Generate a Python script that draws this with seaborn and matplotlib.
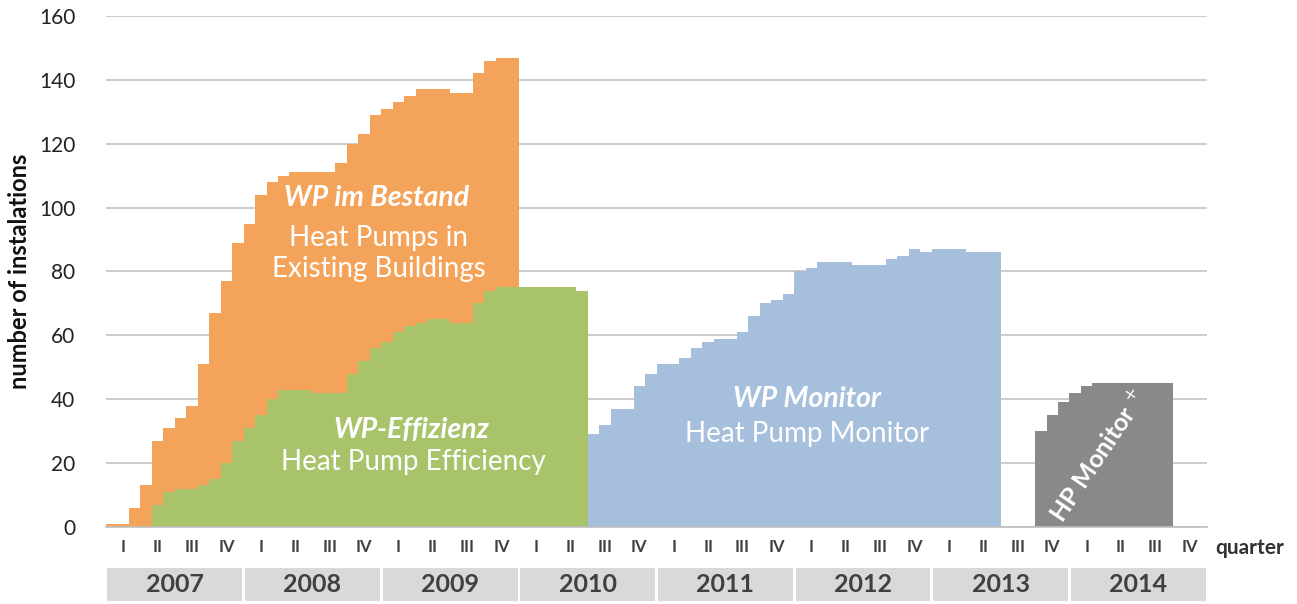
import numpy as np
import pandas as pd
import seaborn as sns
import matplotlib.pyplot as plt
from matplotlib.patches import Rectangle

# --- data: installations per month (cumulative) ---
years = ["2007", "2008", "2009", "2010", "2011", "2012", "2013", "2014"]
quarters = ["I", "II", "III", "IV"]

bestand_start = "2007-01"
bestand = [1, 1, 6, 13, 27, 31, 34, 38, 51, 67, 77, 89,
           95, 104, 108, 110, 111, 111, 111, 111, 114, 120, 123, 129,
           131, 133, 135, 137, 137, 137, 136, 136, 142, 146, 147, 147]

effizienz_start = "2007-05"
effizienz = [7, 11, 12, 12, 13, 15, 20, 27,
             31, 35, 40, 43, 43, 43, 42, 42, 42, 48, 52, 56,
             58, 61, 63, 64, 65, 65, 64, 64, 70, 74, 75, 75,
             75, 75, 75, 75, 75, 74]

monitor_start = "2010-07"
monitor = [29, 32, 37, 37, 44, 48,
           51, 51, 53, 56, 58, 59, 59, 61, 66, 70, 71, 73,
           80, 81, 83, 83, 83, 82, 82, 82, 84, 85, 87, 86,
           87, 87, 87, 86, 86, 86]

monitor_plus_start = "2013-10"
monitor_plus = [30, 35, 39, 42, 44, 45, 45, 45, 45, 45, 45, 45]

colors = {"bestand": "#F4A45A", "effizienz": "#A8C36A",
          "monitor": "#A5BFDD", "monitor_plus": "#898989"}


def to_frame(start, values):
    p0 = pd.Period("2007-01", freq="M")
    first = (pd.Period(start, freq="M") - p0).n
    idx = np.arange(first, first + len(values))
    return pd.DataFrame({"month": idx + 0.5, "n": values}), int(idx[0]), int(idx[-1]) + 1


sns.set_style("white")
plt.rcParams["font.family"] = ["Lato", "DejaVu Sans"]

fig = plt.figure(figsize=(12.97, 6.04), dpi=100)
ax = fig.add_axes([0.0817, 0.1275, 0.849, 0.846])

series = [("bestand", bestand_start, bestand),
          ("effizienz", effizienz_start, effizienz),
          ("monitor", monitor_start, monitor),
          ("monitor_plus", monitor_plus_start, monitor_plus)]
for key, start, vals in series:
    d, lo, hi = to_frame(start, vals)
    sns.histplot(data=d, x="month", weights="n", binwidth=1, binrange=(lo, hi),
                 element="step", fill=True, color=colors[key], alpha=1,
                 linewidth=0, ax=ax, zorder=2)

n_months = 12 * len(years)
ax.set_xlim(0, n_months)
ax.set_ylim(0, 160)
ax.set_yticks(np.arange(0, 161, 20))
ax.yaxis.grid(True, color="#C4C4C4", linewidth=1.2, zorder=0)
ax.set_axisbelow(True)
for s in ["top", "right", "left"]:
    ax.spines[s].set_visible(False)
ax.spines["bottom"].set_color("#BFBFBF")
ax.spines["bottom"].set_linewidth(1.2)
ax.spines["bottom"].set_zorder(3)

ax.tick_params(axis="y", length=0, labelsize=15, labelcolor="#222222", pad=22)
ax.set_xticks(np.arange(0, n_months + 1, 3))
ax.set_xticklabels([])
ax.tick_params(axis="x", which="major", direction="out", length=5,
               color="#BFBFBF", width=1.2)
ax.set_xticks(np.arange(1.5, n_months, 3), minor=True)
ax.set_xticklabels(quarters * len(years), minor=True)
ax.tick_params(axis="x", which="minor", length=0, pad=9, labelsize=12,
               labelcolor="#404040")
for lab in ax.get_xticklabels(minor=True):
    lab.set_fontweight("bold")
    lab.set_fontstretch("condensed")

ax.set_xlabel("")
ax.set_ylabel("number of instalations", fontsize=17, fontweight="bold",
              color="#111111", labelpad=6)

trans = ax.get_xaxis_transform()
ax.text(99.7, -0.041, "quarter", transform=trans, ha="center", va="center",
        fontsize=15, fontweight="bold", color="#333333")

# year boxes below the quarter labels
for i, yr in enumerate(years):
    ax.add_patch(Rectangle((12 * i + 0.12, -0.145), 11.76, 0.065,
                           transform=trans, clip_on=False,
                           facecolor="#D9D9D9", edgecolor="none"))
    ax.text(12 * i + 6, -0.113, yr, transform=trans, ha="center",
            va="center", fontsize=18, fontweight="bold", color="#404040")

# labels inside the areas
ax.text(23.6, 103, "WP im Bestand", ha="center", va="center", fontsize=20.5,
        fontweight="bold", fontstyle="italic", color="white", zorder=4)
ax.text(23.8, 90.5, "Heat Pumps in", ha="center", va="center", fontsize=20,
        color="white", zorder=4)
ax.text(23.8, 80.8, "Existing Buildings", ha="center", va="center",
        fontsize=20, color="white", zorder=4)

ax.text(26.6, 30.5, "WP-Effizienz", ha="center", va="center", fontsize=20.5,
        fontweight="bold", fontstyle="italic", color="white", zorder=4)
ax.text(26.8, 20.2, "Heat Pump Efficiency", ha="center", va="center",
        fontsize=20, color="white", zorder=4)

ax.text(61.1, 40, "WP Monitor", ha="center", va="center", fontsize=20.5,
        fontweight="bold", fontstyle="italic", color="white", zorder=4)
ax.text(61.1, 29, "Heat Pump Monitor", ha="center", va="center",
        fontsize=20, color="white", zorder=4)

ax.text(86.5, 22.5, "HP Monitor $^{+}$", ha="center", va="center",
        fontsize=18, fontweight="bold", color="white", rotation=56,
        rotation_mode="anchor", zorder=4)

fig.savefig("out.png", dpi=100)
